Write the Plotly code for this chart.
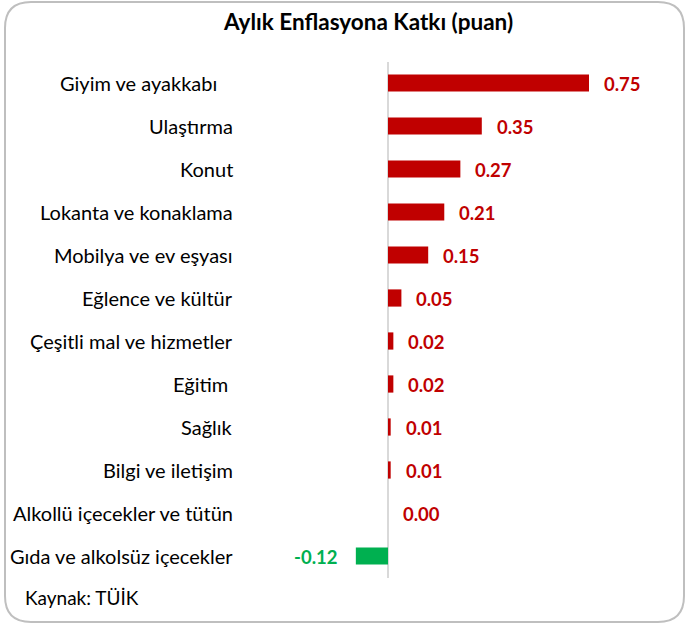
import plotly.graph_objects as go

categories = ["Giyim ve ayakkabı\u00a0\u00a0\u00a0", "Ulaştırma", "Konut", "Lokanta ve konaklama",
              "Mobilya ve ev eşyası", "Eğlence ve kültür", "Çeşitli mal ve hizmetler",
              "Eğitim\u00a0", "Sağlık", "Bilgi ve iletişim", "Alkollü içecekler ve tütün",
              "Gıda ve alkolsüz içecekler"]
values = [0.75, 0.35, 0.27, 0.21, 0.15, 0.05, 0.02, 0.02, 0.01, 0.01, 0.00, -0.12]
title_text = "Aylık Enflasyona Katkı (puan)"
source_text = "Kaynak: TÜİK"

W, H = 686, 626
RED, GREEN = "#C00000", "#00B050"
FONT = "Lato"
colors = [RED if v >= 0 else GREEN for v in values]

fig = go.Figure(go.Bar(
    x=values, y=categories, orientation="h",
    marker=dict(color=colors, line=dict(width=0)),
    width=0.4, hoverinfo="skip",
))

ann = []
for c, v, col in zip(categories, values, colors):
    ann.append(dict(x=v, y=c, xref="x", yref="y", text=f"<b>{v:.2f}</b>",
                    showarrow=False, xanchor="left" if v >= 0 else "right",
                    xshift=13 if v >= 0 else -17, yshift=-1,
                    font=dict(family=FONT, size=18.5, color=col)))
    ann.append(dict(x=235 / W, y=c, xref="paper", yref="y", text=c,
                    showarrow=False, xanchor="right",
                    font=dict(family=FONT, size=20, color="#000000")))
ann.append(dict(x=368 / W, y=1 - 21 / H, xref="paper", yref="paper",
                text=f"<b>{title_text}</b>", showarrow=False, xanchor="center",
                yanchor="middle", font=dict(family=FONT, size=22.5, color="#000000")))
ann.append(dict(x=23 / W, y=1 - 597 / H, xref="paper", yref="paper",
                text=source_text, showarrow=False, xanchor="left",
                yanchor="middle", font=dict(family=FONT, size=19, color="#000000")))

# rounded border in paper coords
x0, x1 = 5 / W, 684 / W
y0, y1 = 1 - 622 / H, 1 - 2 / H
rx, ry = 26 / W, 26 / H
path = (f"M {x0+rx},{y1} L {x1-rx},{y1} Q {x1},{y1} {x1},{y1-ry} "
        f"L {x1},{y0+ry} Q {x1},{y0} {x1-rx},{y0} L {x0+rx},{y0} "
        f"Q {x0},{y0} {x0},{y0+ry} L {x0},{y1-ry} Q {x0},{y1} {x0+rx},{y1} Z")

px_per_unit = 268.0
zero_px = 388.0
fig.update_layout(
    width=W, height=H, margin=dict(l=0, r=0, t=0, b=0),
    paper_bgcolor="white", plot_bgcolor="white", showlegend=False,
    xaxis=dict(range=[-zero_px / px_per_unit, (W - zero_px) / px_per_unit],
               domain=[0, 1], showgrid=False, showticklabels=False, ticks="",
               zeroline=True, zerolinecolor="#D9D9D9", zerolinewidth=2,
               fixedrange=True),
    yaxis=dict(categoryorder="array", categoryarray=categories,
               range=[len(categories) - 0.5, -0.5],
               domain=[1 - 577.5 / H, 1 - 61.5 / H],
               showgrid=False, showticklabels=False, ticks="", zeroline=False,
               fixedrange=True),
    annotations=ann,
    shapes=[dict(type="path", path=path, xref="paper", yref="paper",
                 line=dict(color="#BFBFBF", width=2), layer="above")],
    bargap=0.6,
)

fig.write_html("out.html", config={"displayModeBar": False},
               post_script="document.body.style.margin='0';document.body.style.padding='0';")
